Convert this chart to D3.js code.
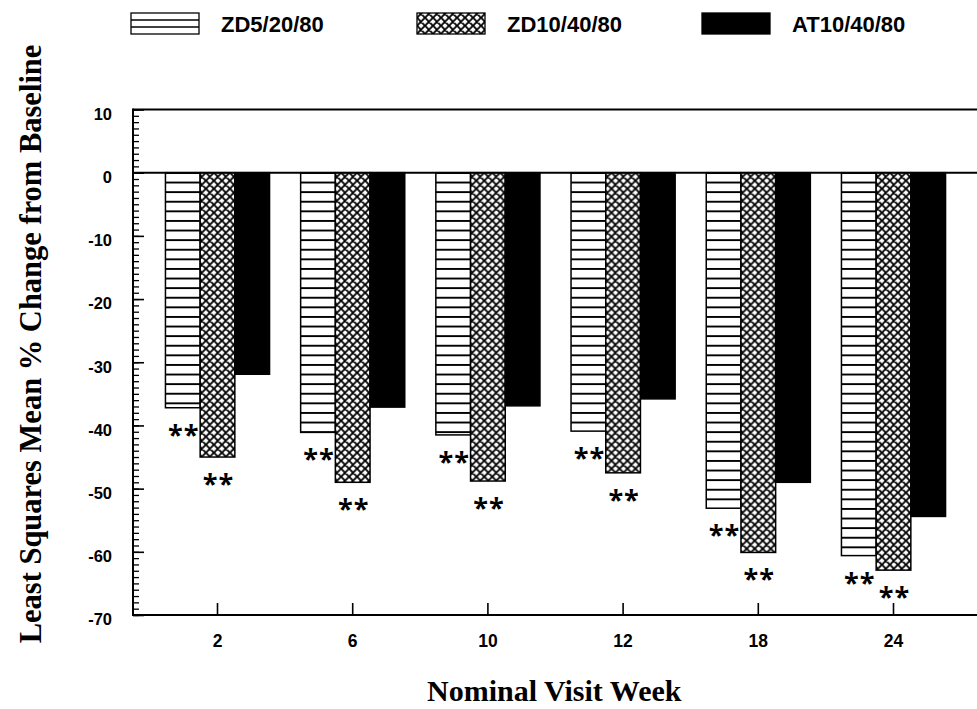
<!DOCTYPE html>
<html>
<head>
<meta charset="utf-8">
<script src="https://cdn.jsdelivr.net/npm/d3@7/dist/d3.min.js"></script>
<style>
  html, body { margin: 0; padding: 0; background: #fff; }
  svg { display: block; }
  .sans { font-family: Arial, "Liberation Sans", Helvetica, sans-serif; font-weight: bold; }
  .serif { font-family: "Times New Roman", "Liberation Serif", Times, serif; font-weight: bold; }
  .sig { font-family: "Open Sans", Arial, sans-serif; font-weight: bold; }
</style>
</head>
<body>
<svg id="chart" width="977" height="709"></svg>
<script>
// Visit weeks (categories)
const weeks = ["2", "6", "10", "12", "18", "24"];
// Treatment arms
const seriesNames = ["ZD5/20/80", "ZD10/40/80", "AT10/40/80"];
// LS mean % change from baseline for each arm, per week
const zd5 = [-37.2, -41.1, -41.5, -40.9, -53.1, -60.6];
const zd10 = [-45.0, -49.0, -48.8, -47.5, -60.1, -62.9];
const at10 = [-31.9, -37.1, -36.9, -35.8, -49.0, -54.4];
// Significance flags ("**") per arm, per week
const sigZd5 = [true, true, true, true, true, true];
const sigZd10 = [true, true, true, true, true, true];
const sigAt10 = [false, false, false, false, false, false];
// Y axis tick values
const yTicks = [10, 0, -10, -20, -30, -40, -50, -60, -70];

const seriesValues = [zd5, zd10, at10];
const seriesSig = [sigZd5, sigZd10, sigAt10];
const fills = ["url(#hstripe)", "url(#xhatch)", "#000"];

const svg = d3.select("#chart");
const W = 977;
const plotL = 133, plotR = 978, plotT = 109.5, plotB = 615;

const x0 = d3.scaleBand().domain(weeks).range([plotL, plotR])
  .paddingInner(0).paddingOuter(0.125);
const x1 = d3.scaleBand().domain(seriesNames).range([0, x0.bandwidth()])
  .paddingInner(0).paddingOuter(0.448);
const y = d3.scaleLinear().domain([-70, 10]).range([plotB, plotT]);

// Fill patterns: horizontal stripes and diamond cross-hatch
const defs = svg.append("defs");
const stripe = 9.6;
const hp = defs.append("pattern").attr("id", "hstripe")
  .attr("patternUnits", "userSpaceOnUse")
  .attr("width", 20).attr("height", stripe)
  .attr("y", y(0) + 1.2);
hp.append("rect").attr("width", 20).attr("height", stripe).attr("fill", "#fff");
hp.append("rect").attr("y", stripe - 1.9).attr("width", 20).attr("height", 1.9).attr("fill", "#000");

const s = 8;
const xp = defs.append("pattern").attr("id", "xhatch")
  .attr("patternUnits", "userSpaceOnUse")
  .attr("width", s).attr("height", s)
  .attr("y", y(0));
xp.append("rect").attr("width", s).attr("height", s).attr("fill", "#fff");
xp.append("path")
  .attr("d", `M-1,1 l2,-2 M0,${s} l${s},${-s} M${s - 1},${s + 1} l2,-2 ` +
             `M-1,${s - 1} l2,2 M0,0 l${s},${s} M${s - 1},-1 l2,2`)
  .attr("stroke", "#000").attr("stroke-width", 1.8);

// Bars
const rows = weeks.map((w, i) => ({
  week: w,
  items: seriesNames.map((n, k) => ({ name: n, k, value: seriesValues[k][i], sig: seriesSig[k][i] }))
}));

const groups = svg.append("g").selectAll("g").data(rows).join("g")
  .attr("transform", d => `translate(${x0(d.week)},0)`);

groups.selectAll("rect").data(d => d.items).join("rect")
  .attr("x", d => x1(d.name))
  .attr("width", x1.bandwidth())
  .attr("y", d => y(Math.max(0, d.value)))
  .attr("height", d => Math.abs(y(d.value) - y(0)))
  .attr("fill", d => fills[d.k])
  .attr("stroke", "#000").attr("stroke-width", 1.5);

// Significance markers below bar ends
groups.selectAll("text.sig").data(d => d.items.filter(e => e.sig)).join("text")
  .attr("class", "sig")
  .attr("x", d => x1(d.name) + x1.bandwidth() / 2 + 1)
  .attr("y", d => y(d.value) + 36)
  .attr("text-anchor", "middle")
  .attr("font-size", 27)
  .attr("letter-spacing", 1)
  .attr("fill", "#000")
  .text("**");

// Frame lines: top border, zero line, left axis, bottom axis
const frame = svg.append("g").attr("stroke", "#000").attr("stroke-width", 2);
frame.append("line").attr("x1", plotL).attr("x2", W).attr("y1", y(10)).attr("y2", y(10));
frame.append("line").attr("x1", plotL).attr("x2", W).attr("y1", y(0)).attr("y2", y(0));
frame.append("line").attr("x1", plotL).attr("x2", W).attr("y1", y(-70)).attr("y2", y(-70));
frame.append("line").attr("x1", plotL).attr("x2", plotL).attr("y1", y(10) - 1).attr("y2", y(-70) + 1);

// Y axis: minor ticks every unit, major ticks with labels
const minorTicks = d3.range(-70, 11, 1);
svg.append("g").attr("transform", `translate(${plotL},0)`)
  .call(d3.axisLeft(y).tickValues(minorTicks).tickSize(-6).tickFormat(""))
  .call(g => g.select(".domain").remove())
  .call(g => g.selectAll("line").attr("stroke", "#000").attr("stroke-width", 1.3));

svg.append("g").attr("transform", `translate(${plotL},0)`)
  .call(d3.axisLeft(y).tickValues(yTicks).tickSize(-11).tickPadding(21).tickFormat(d => String(d)))
  .call(g => g.select(".domain").remove())
  .call(g => g.selectAll("line").attr("stroke", "#000").attr("stroke-width", 1.6))
  .call(g => g.selectAll("text").attr("class", "sans").attr("font-size", 16.5)
    .attr("fill", "#000").attr("dy", "0.6em"));

// X axis
svg.append("g").attr("transform", `translate(0,${plotB})`)
  .call(d3.axisBottom(x0).tickSize(-12).tickPadding(20))
  .call(g => g.select(".domain").remove())
  .call(g => g.selectAll("line").attr("stroke", "#000").attr("stroke-width", 1.6))
  .call(g => g.selectAll("text").attr("class", "sans").attr("font-size", 17.5).attr("fill", "#000"));

// Axis titles
svg.append("text").attr("class", "serif")
  .attr("x", 427).attr("y", 701)
  .attr("font-size", 30)
  .text("Nominal Visit Week");

svg.append("text").attr("class", "serif")
  .attr("transform", "translate(41,344) rotate(-90)")
  .attr("text-anchor", "middle").attr("font-size", 30.5)
  .text("Least Squares Mean % Change from Baseline");

// Legend
const legendX = [131, 417, 702];
const lg = svg.append("g").selectAll("g").data(seriesNames).join("g")
  .attr("transform", (d, i) => `translate(${legendX[i]},13)`);
lg.append("rect")
  .attr("width", 68).attr("height", 21)
  .attr("fill", (d, i) => i === 0 ? "#fff" : fills[i])
  .attr("stroke", "#000").attr("stroke-width", 1.3);
lg.filter((d, i) => i === 0).selectAll("line").data([7, 14]).join("line")
  .attr("x1", 0).attr("x2", 68).attr("y1", v => v).attr("y2", v => v)
  .attr("stroke", "#000").attr("stroke-width", 1.6);
lg.append("text").attr("class", "sans")
  .attr("x", 90).attr("y", 18.5).attr("font-size", 22)
  .text(d => d);
</script>
</body>
</html>
